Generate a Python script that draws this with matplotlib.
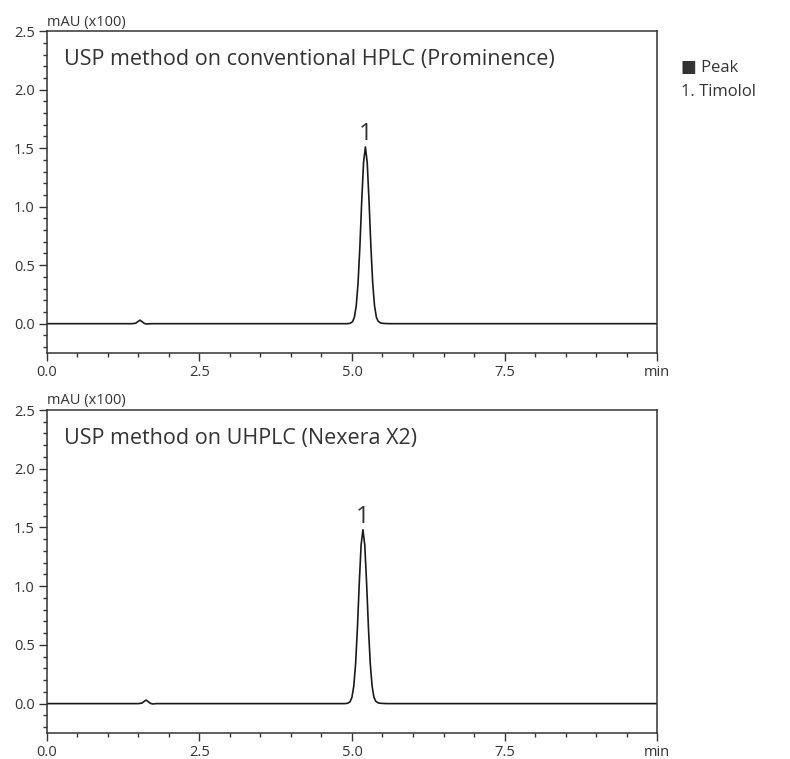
import numpy as np
import matplotlib
matplotlib.use("Agg")
import matplotlib.pyplot as plt
from matplotlib.ticker import MultipleLocator

plt.rcParams['font.family'] = ['Open Sans', 'DejaVu Sans']

# trace points (time in min, mAU x100)
t_top = [0.0, 1.40, 1.46, 1.50, 1.53, 1.56, 1.60, 1.64, 1.70, 4.80,
         4.92, 4.97, 5.01, 5.04, 5.07, 5.10, 5.13, 5.16, 5.19, 5.22,
         5.25, 5.28, 5.31, 5.34, 5.37, 5.40, 5.43, 5.47, 5.52, 5.62, 10.0]
y_top = [0.0, 0.0, 0.004, 0.020, 0.030, 0.018, 0.002, -0.003, 0.0, 0.0,
         0.0, 0.003, 0.017, 0.055, 0.152, 0.347, 0.660, 1.046, 1.377, 1.51,
         1.377, 1.046, 0.660, 0.347, 0.152, 0.055, 0.020, 0.006, 0.002, 0.0, 0.0]

t_bot = [0.0, 1.50, 1.56, 1.60, 1.63, 1.66, 1.70, 1.74, 1.80, 4.80,
         4.88, 4.93, 4.97, 5.00, 5.03, 5.06, 5.09, 5.12, 5.15, 5.18,
         5.21, 5.24, 5.27, 5.30, 5.33, 5.36, 5.39, 5.43, 5.48, 5.58, 10.0]
y_bot = [0.0, 0.0, 0.004, 0.020, 0.030, 0.018, 0.002, -0.003, 0.0, 0.0,
         0.0, 0.003, 0.016, 0.054, 0.149, 0.340, 0.647, 1.026, 1.350, 1.48,
         1.350, 1.026, 0.647, 0.340, 0.149, 0.054, 0.020, 0.006, 0.002, 0.0, 0.0]

titles = ["USP method on conventional HPLC (Prominence)",
          "USP method on UHPLC (Nexera X2)"]
peak_rt = [5.22, 5.18]
peak_h = [1.51, 1.48]
peak_names = ["1"]
xtick_vals = [0.0, 2.5, 5.0, 7.5, 10.0]
xtick_labels = ["0.0", "2.5", "5.0", "7.5", "min"]
ytick_vals = [0.0, 0.5, 1.0, 1.5, 2.0, 2.5]

c_axis = "#333333"
c_text = "#333333"

fig = plt.figure(figsize=(7.90, 7.59), dpi=100)
ax1 = fig.add_axes([0.059, 0.535, 0.773, 0.424])
ax2 = fig.add_axes([0.059, 0.0343, 0.773, 0.4255])

for ax, t, y, title, rt, h in zip([ax1, ax2], [t_top, t_bot], [y_top, y_bot],
                                  titles, peak_rt, peak_h):
    ax.plot(t, y, color="#1a1a1a", lw=1.2)
    ax.set_xlim(0, 10)
    ax.set_ylim(-0.25, 2.5)
    ax.set_xticks(xtick_vals)
    ax.set_xticklabels(xtick_labels)
    ax.set_yticks(ytick_vals)
    ax.set_yticklabels(["%.1f" % v for v in ytick_vals])
    ax.xaxis.set_minor_locator(MultipleLocator(0.5))
    ax.yaxis.set_minor_locator(MultipleLocator(0.1))
    ax.tick_params(which="major", length=5.5, width=1, color=c_axis,
                   labelsize=10.5, labelcolor=c_text, pad=3)
    ax.tick_params(which="minor", length=3, width=1, color=c_axis)
    for s in ax.spines.values():
        s.set_color(c_axis)
        s.set_linewidth(1.1)
    ax.text(0.028, 0.912, title, transform=ax.transAxes, fontsize=15.5,
            color=c_text, va="center", ha="left")
    ax.text(rt, h + 0.01, peak_names[0], fontsize=17, color=c_text,
            ha="center", va="bottom")
    ax.text(0.0, 1.005, "mAU (x100)", transform=ax.transAxes, fontsize=10.5,
            color=c_text, ha="left", va="bottom")

fig.text(0.862, 0.911, "\u25a0 Peak", fontsize=12, color=c_text, va="center")
fig.text(0.862, 0.879, "1. Timolol", fontsize=12, color=c_text, va="center")

fig.savefig("out.png", dpi=100)
